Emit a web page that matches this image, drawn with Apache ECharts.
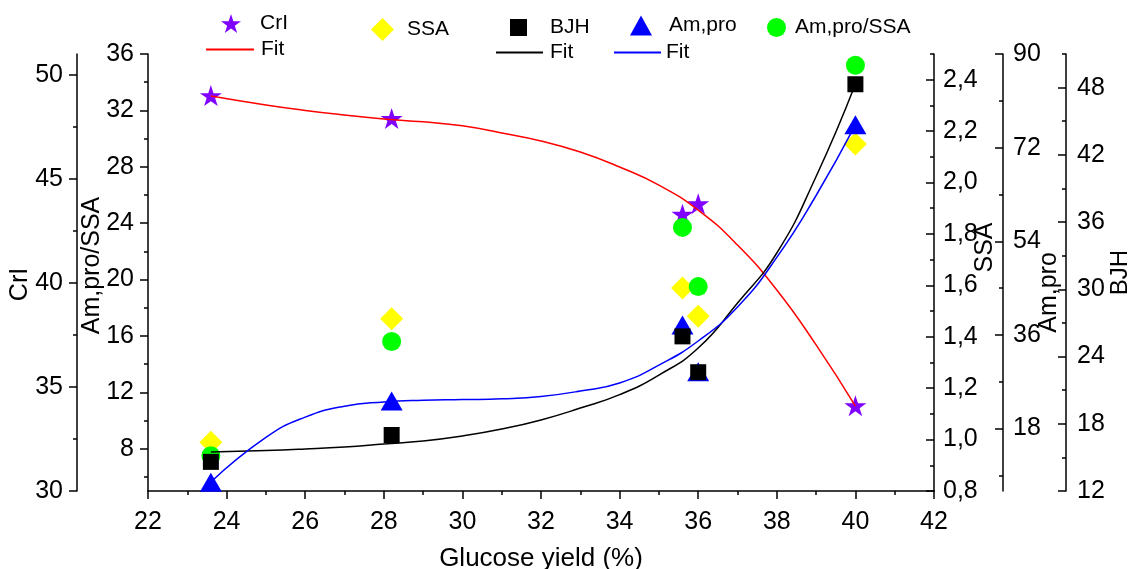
<!DOCTYPE html>
<html><head><meta charset="utf-8">
<script src="https://cdn.jsdelivr.net/npm/echarts@6/dist/echarts.min.js"></script>
<style>html,body{margin:0;padding:0;background:#fff}#c{width:1129px;height:569px}</style>
</head><body><div id="c"></div>
<script>
// ---- data ----
const glucoseYield = [23.6, 28.2, 35.6, 36.0, 40.0];
const crI      = [49.0, 47.9, 43.3, 43.8, 34.1];
const ssa      = [0.99, 1.47, 1.59, 1.48, 2.15];
const bjh      = [14.6, 17.0, 25.8, 22.6, 48.3];
const amPro    = [7.7, 23.3, 37.9, 28.9, 76.4];
const amProSsa = [7.5, 15.6, 23.7, 19.5, 35.2];

// fitted curves
const fitX      = [23.6, 25, 26, 27, 28, 29, 30, 31, 32, 33, 34, 35, 36, 37, 38, 39, 40];
const crIFit    = [48.98, 48.55, 48.29, 48.07, 47.88, 47.74, 47.55, 47.20, 46.82, 46.29, 45.57, 44.70, 43.50, 41.82, 39.66, 37.02, 34.08];
const bjhFit    = [15.48, 15.61, 15.75, 15.93, 16.19, 16.46, 16.91, 17.53, 18.34, 19.40, 20.60, 22.35, 24.76, 28.78, 33.24, 40.07, 48.32];
const amProFit  = [7.73, 16.3, 20.2, 22.3, 23.10, 23.44, 23.57, 23.72, 24.17, 25.22, 26.76, 30.2, 34.83, 41.37, 50.9, 62.8, 76.36];

// tick values
const crITicks = [30, 35, 40, 45, 50];
const crIMinor = [32.5, 37.5, 42.5, 47.5];
const amProSsaTicks = [8, 12, 16, 20, 24, 28, 32, 36];
const amProSsaMinor = [6, 10, 14, 18, 22, 26, 30, 34];
const ssaTicks = [0.8, 1.0, 1.2, 1.4, 1.6, 1.8, 2.0, 2.2, 2.4];
const ssaMinor = [0.9, 1.1, 1.3, 1.5, 1.7, 1.9, 2.1, 2.3, 2.5];
const amProTicks = [18, 36, 54, 72, 90];
const amProMinor = [9, 27, 45, 63, 81];
const bjhTicks = [12, 18, 24, 30, 36, 42, 48];
const bjhMinor = [15, 21, 27, 33, 39, 45, 51];

const FONT = 'Liberation Sans, Arial, sans-serif';
const TICK_FS = 25;
const STAR = 'path://M1,0L1.2245,0.691L1.951,0.691L1.363,1.118L1.588,1.809L1,1.382L0.412,1.809L0.637,1.118L0.049,0.691L0.7755,0.691Z';
const pairs = (xs, ys) => xs.map((x, i) => [x, ys[i]]);

function yAxisMain(o) {
  return {
    type: 'value', position: o.pos, offset: o.offset, min: o.min, max: o.max,
    name: o.name, nameLocation: 'middle', nameGap: o.nameGap, nameRotate: 90, nameMoveOverlap: false,
    nameTextStyle: { fontSize: o.nameFs || TICK_FS, color: '#000', fontFamily: FONT, padding: o.namePad || 0 },
    axisLine: { show: true, onZero: false, lineStyle: { color: '#000', width: 1.5 } },
    axisTick: { show: true, inside: o.pos === 'right', length: 8, customValues: o.ticks, lineStyle: { color: '#000', width: 1.5 } },
    axisLabel: { show: true, customValues: o.ticks, fontSize: TICK_FS, color: '#000', fontFamily: FONT, margin: o.margin, formatter: o.fmt },
    splitLine: { show: false }
  };
}
function yAxisMinor(o) {
  return {
    type: 'value', position: o.pos, offset: o.offset, min: o.min, max: o.max,
    axisLine: { show: false },
    axisTick: { show: true, inside: o.pos === 'right', length: 4, customValues: o.minor, lineStyle: { color: '#000', width: 1.5 } },
    axisLabel: { show: false }, splitLine: { show: false }
  };
}
const axDefs = [
  { pos: 'left', offset: 0, min: 5, max: 36, name: 'Am,pro/SSA', nameGap: 43, namePad: [0, 0, 0, 14], ticks: amProSsaTicks, minor: amProSsaMinor, margin: 14 },
  { pos: 'left', offset: 71, min: 30, max: 51, name: 'CrI', nameGap: 44, namePad: [0, 24, 0, 0], ticks: crITicks, minor: crIMinor, margin: 14 },
  { pos: 'right', offset: 0, min: 0.8, max: 2.5, name: 'SSA', nameGap: 39, namePad: [0, 0, 0, 50], ticks: ssaTicks, minor: ssaMinor, margin: 9,
    fmt: v => v.toFixed(1).replace('.', ',') },
  { pos: 'right', offset: 69, min: 6, max: 90, name: 'Am,pro', nameGap: 34, namePad: [0, 40, 0, 0], ticks: amProTicks, minor: amProMinor, margin: 10 },
  { pos: 'right', offset: 132, min: 12, max: 51, name: 'BJH', nameGap: 42, nameFs: 24, ticks: bjhTicks, minor: bjhMinor, margin: 11 }
];
const yAxes = axDefs.map(yAxisMain).concat(axDefs.map(yAxisMinor));

function legend(name, left, top, w, h, pad, extra) {
  return Object.assign({
    data: [name], left: left, top: top, padding: 0, itemWidth: w, itemHeight: h,
    selectedMode: false,
    textStyle: { fontSize: 21, color: '#000', fontFamily: FONT, padding: [0, 0, 0, pad] }
  }, extra || {});
}
const fitFmt = { formatter: () => 'Fit' };

const option = {
  animation: false,
  backgroundColor: '#fff',
  textStyle: { fontFamily: FONT },
  grid: { left: 148, right: 195, top: 54, bottom: 78, containLabel: false, outerBoundsMode: 'none' },
  legend: [
    legend('CrI', 221, 13, 20, 20, 14),
    legend({ name: 'Fit1', icon: 'rect' }, 206, 39, 48, 2, 2, fitFmt),
    legend('SSA', 371, 18, 23, 23, 8),
    legend('BJH', 510, 17, 17, 17, 18),
    legend({ name: 'Fit2', icon: 'rect' }, 496, 42, 47, 2, 2, fitFmt),
    legend('Am,pro', 630, 15, 22, 20, 12),
    legend({ name: 'Fit3', icon: 'rect' }, 614, 42, 47, 2, 0, fitFmt),
    legend('Am,pro/SSA', 767, 17, 19, 19, 4)
  ],
  xAxis: {
    type: 'value', min: 22, max: 42, interval: 2,
    name: 'Glucose yield (%)', nameLocation: 'middle', nameGap: 55, nameMoveOverlap: false,
    nameTextStyle: { fontSize: 26, color: '#000', fontFamily: FONT },
    axisLine: { show: true, onZero: false, lineStyle: { color: '#000', width: 1.5 } },
    axisTick: { show: true, length: 8, lineStyle: { color: '#000', width: 1.5 } },
    minorTick: { show: true, splitNumber: 2, length: 4, lineStyle: { color: '#000', width: 1.5 } },
    axisLabel: { fontSize: TICK_FS, color: '#000', fontFamily: FONT, margin: 19 },
    splitLine: { show: false }, minorSplitLine: { show: false }
  },
  yAxis: yAxes,
  series: [
    { name: 'Fit1', type: 'line', yAxisIndex: 1, data: pairs(fitX, crIFit), smooth: 0.5, showSymbol: false, symbol: 'none',
      lineStyle: { color: '#ff0000', width: 1.5 }, itemStyle: { color: '#ff0000' } },
    { name: 'Fit2', type: 'line', yAxisIndex: 4, data: pairs(fitX, bjhFit), smooth: 0.5, showSymbol: false, symbol: 'none',
      lineStyle: { color: '#000000', width: 1.5 }, itemStyle: { color: '#000000' } },
    { name: 'Fit3', type: 'line', yAxisIndex: 3, data: pairs(fitX, amProFit), smooth: 0.5, showSymbol: false, symbol: 'none',
      lineStyle: { color: '#0000ff', width: 1.5 }, itemStyle: { color: '#0000ff' } },
    { name: 'CrI', type: 'scatter', yAxisIndex: 1, data: pairs(glucoseYield, crI), symbol: STAR, symbolSize: [22, 21],
      itemStyle: { color: '#8000ff', opacity: 1 } },
    { name: 'SSA', type: 'scatter', yAxisIndex: 2, data: pairs(glucoseYield, ssa), symbol: 'diamond', symbolSize: 23,
      itemStyle: { color: '#ffff00', opacity: 1 } },
    { name: 'Am,pro', type: 'scatter', yAxisIndex: 3, data: pairs(glucoseYield, amPro), symbol: 'triangle', symbolSize: [22, 19],
      itemStyle: { color: '#0000ff', opacity: 1 } },
    { name: 'Am,pro/SSA', type: 'scatter', yAxisIndex: 0, data: pairs(glucoseYield, amProSsa), symbol: 'circle', symbolSize: 19,
      itemStyle: { color: '#00ff00', opacity: 1 } },
    { name: 'BJH', type: 'scatter', yAxisIndex: 4, data: pairs(glucoseYield, bjh), symbol: 'rect', symbolSize: 16,
      itemStyle: { color: '#000000', opacity: 1 } }
  ]
};
const chart = echarts.init(document.getElementById('c'), null, { renderer: 'canvas' });
chart.setOption(option);
</script>
</body></html>
